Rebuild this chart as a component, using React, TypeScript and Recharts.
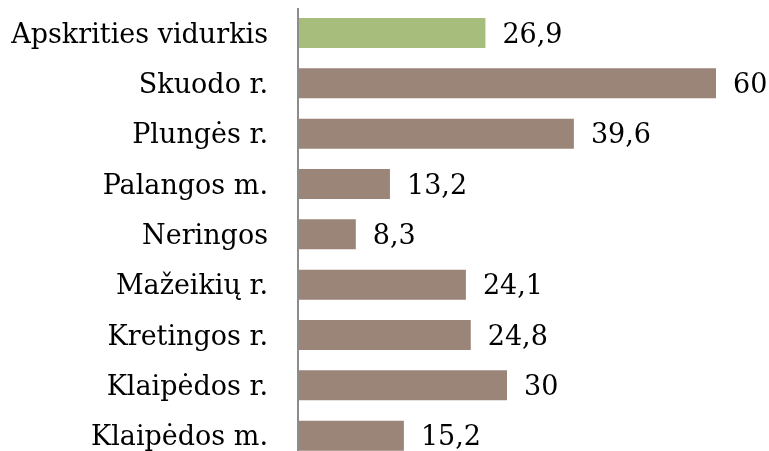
import { BarChart, Bar, XAxis, YAxis, Cell, LabelList } from "recharts";

const categories = [
  "Apskrities vidurkis",
  "Skuodo r.",
  "Plungės r.",
  "Palangos m.",
  "Neringos",
  "Mažeikių r.",
  "Kretingos r.",
  "Klaipėdos r.",
  "Klaipėdos m.",
];
const values = [26.9, 60, 39.6, 13.2, 8.3, 24.1, 24.8, 30, 15.2];
const highlight = ["Apskrities vidurkis"];

const data = categories.map((name, i) => ({ name, value: values[i] }));

const font = "'DejaVu Serif', serif";

export default function App() {
  // fixed so the overflowing last row doesn't add a scrollbar
  return (
    <div style={{ position: "fixed", left: 8, top: 8 }}>
      <BarChart
        width={761}
        height={453}
        data={data}
        layout="vertical"
        margin={{ top: 0, right: 53, bottom: 0, left: 0 }}
        barSize={30}
      >
        <XAxis type="number" domain={[0, 60]} hide />
        <YAxis
          type="category"
          dataKey="name"
          width={290}
          tickLine={false}
          tickSize={0}
          tickMargin={30}
          axisLine={{ stroke: "#8c8c8c", strokeWidth: 2 }}
          tick={{ fill: "#000", fontSize: 27, fontFamily: font }}
          interval={0}
        />
        <Bar dataKey="value" isAnimationActive={false}>
          {data.map((d) => (
            <Cell
              key={d.name}
              fill={highlight.includes(d.name) ? "#a6bd7b" : "#9b8578"}
            />
          ))}
          <LabelList
            dataKey="value"
            position="right"
            offset={17}
            formatter={(v: number) => String(v).replace(".", ",")}
            style={{ fill: "#000", fontSize: 27, fontFamily: font }}
          />
        </Bar>
      </BarChart>
    </div>
  );
}
